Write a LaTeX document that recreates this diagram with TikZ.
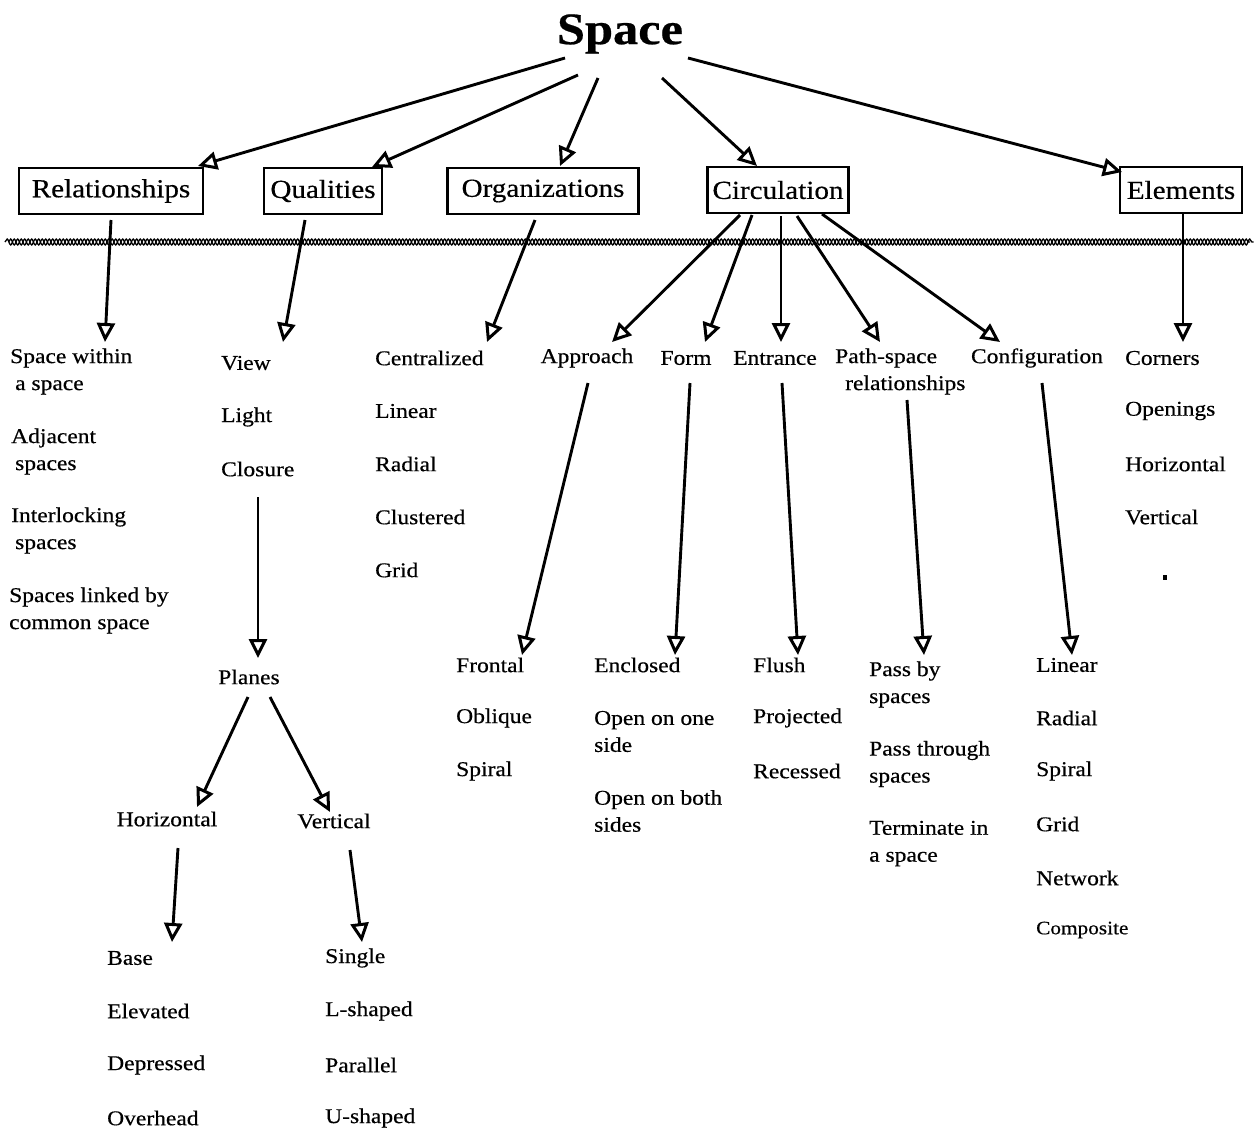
\documentclass[tikz,border=0pt]{standalone}
\usepackage{fontspec}
\setmainfont{Liberation Serif}[FakeStretch=1.12, FakeBold=0.5]
\usetikzlibrary{arrows.meta,decorations.pathmorphing}
\begin{document}
\begin{tikzpicture}[x=1pt,y=-1pt,
  arr/.style={line width=2.9pt, -{Triangle[open,length=19pt,width=18pt,line width=3pt]}},
  catbox/.style={draw, line width=2.4pt, minimum height=46pt, inner sep=0pt, font=\fontsize{26}{30}\selectfont},
  item/.style={anchor=west, inner sep=0pt, align=left, font=\fontsize{21}{27}\selectfont},
  citem/.style={anchor=center, inner sep=0pt, font=\fontsize{21}{27}\selectfont},
  wave/.style={line width=1.3pt, decorate, decoration={snake, segment length=7pt, amplitude=3pt}}]
\useasboundingbox (0,0) rectangle (1257,1133);

% title and category boxes
\node[font=\bfseries\fontsize{45}{50}\selectfont, inner sep=0pt] (space) at (620,34) {Space};
\node[catbox, minimum width=184pt] (rel) at (111,191) {Relationships};
\node[catbox, minimum width=118pt] (qual) at (323,191) {Qualities};
\node[catbox, minimum width=191pt] (org) at (543,191) {Organizations};
\node[catbox, minimum width=141pt] (circ) at (778,190) {Circulation};
\node[catbox, minimum width=122pt] (elem) at (1181,190) {Elements};

% divider band: two snakes half a period apart
\draw[wave] (5,242) -- (1250,242);
\draw[wave] (8.5,242) -- (1253.5,242);

% relationships
\node[item] (r1) at (10,371.5) {Space within\\\hspace*{5pt}a space};
\node[item] (r2) at (11,451.5) {Adjacent\\\hspace*{4pt}spaces};
\node[item] (r3) at (11,530.5) {Interlocking\\\hspace*{4pt}spaces};
\node[item] (r4) at (9,610.5) {Spaces linked by\\common space};

% qualities
\node[item] (q1) at (221,363) {View};
\node[item] (q2) at (221,417) {Light};
\node[item] (q3) at (221,469) {Closure};
\node[citem] (planes) at (249,677) {Planes};
\node[citem] (hor) at (167,819) {Horizontal};
\node[citem] (ver) at (334,821) {Vertical};
\node[item] (h1) at (107,958) {Base};
\node[item] (h2) at (107,1011) {Elevated};
\node[item] (h3) at (107,1065) {Depressed};
\node[item] (h4) at (107,1118) {Overhead};
\node[item] (v1) at (325,958) {Single};
\node[item] (v2) at (325,1011) {L-shaped};
\node[item] (v3) at (325,1065) {Parallel};
\node[item] (v4) at (325,1118) {U-shaped};

% organizations
\node[item] (o1) at (375,358) {Centralized};
\node[item] (o2) at (375,411) {Linear};
\node[item] (o3) at (375,464) {Radial};
\node[item] (o4) at (375,517) {Clustered};
\node[item] (o5) at (375,570) {Grid};

% circulation
\node[citem] (appr) at (587,358) {Approach};
\node[citem] (form) at (686,358) {Form};
\node[citem] (entr) at (775,358) {Entrance};
\node[item] (path) at (835,371.5) {Path-space\\\hspace*{10pt}relationships};
\node[citem] (conf) at (1037,358) {Configuration};

\node[item] (a1) at (456,665) {Frontal};
\node[item] (a2) at (456,718) {Oblique};
\node[item] (a3) at (456,771) {Spiral};

\node[item] (f1) at (594,665) {Enclosed};
\node[item] (f2) at (594,731.5) {Open on one\\side};
\node[item] (f3) at (594,811) {Open on both\\sides};

\node[item] (e1) at (753,665) {Flush};
\node[item] (e2) at (753,718) {Projected};
\node[item] (e3) at (753,771) {Recessed};

\node[item] (p1) at (869,684.5) {Pass by\\spaces};
\node[item] (p2) at (869,764) {Pass through\\spaces};
\node[item] (p3) at (869,843.5) {Terminate in\\a space};

\node[item] (c1) at (1036,665) {Linear};
\node[item] (c2) at (1036,718) {Radial};
\node[item] (c3) at (1036,771) {Spiral};
\node[item] (c4) at (1036,824) {Grid};
\node[item] (c5) at (1036,878) {Network};
\node[item, font=\fontsize{19}{24}\selectfont] (c6) at (1036,930) {Composite};

% elements
\node[item] (el1) at (1125,358) {Corners};
\node[item] (el2) at (1125,411) {Openings};
\node[item] (el3) at (1125,464) {Horizontal};
\node[item] (el4) at (1125,517) {Vertical};
\fill (1163,575) rectangle (1167,580);

% connectors from the title
\draw[arr] ([shift={(-55pt,-24pt)}]space.center) -- ([shift={(87pt,25pt)}]rel.center);
\draw[arr] ([shift={(-42pt,-41pt)}]space.center) -- ([shift={(49pt,24pt)}]qual.center);
\draw[arr] ([shift={(-22pt,-44pt)}]space.center) -- ([shift={(17pt,25pt)}]org.center);
\draw[arr] ([shift={(42pt,-44pt)}]space.center) -- ([shift={(-21pt,24pt)}]circ.center);
\draw[arr] ([shift={(68pt,-24pt)}]space.center) -- ([shift={(-59pt,18pt)}]elem.center);

% connectors below the boxes
\draw[arr] ([shift={(0pt,-29pt)}]rel.center) -- ([shift={(95pt,29.5pt)}]r1.west);
\draw[arr] ([shift={(-18pt,-29pt)}]qual.center) -- ([shift={(62pt,21pt)}]q1.west);
\draw[arr] ([shift={(37pt,-28pt)}]q3.west) -- ([shift={(9pt,19pt)}]planes.center);
\draw[arr] ([shift={(-1pt,-20pt)}]planes.center) -- ([shift={(30pt,12pt)}]hor.center);
\draw[arr] ([shift={(21pt,-20pt)}]planes.center) -- ([shift={(-4pt,9pt)}]ver.center);
\draw[arr] ([shift={(11pt,-29pt)}]hor.center) -- ([shift={(65pt,16pt)}]h1.west);
\draw[arr] ([shift={(16pt,-29pt)}]ver.center) -- ([shift={(37pt,16pt)}]v1.west);
\draw[arr] ([shift={(-8pt,-29pt)}]org.center) -- ([shift={(112pt,16pt)}]o1.west);

\draw[arr] ([shift={(-38pt,-25pt)}]circ.center) -- ([shift={(25pt,16pt)}]appr.center);
\draw[arr] ([shift={(-26pt,-25pt)}]circ.center) -- ([shift={(19pt,16pt)}]form.center);
\draw[arr] ([shift={(3pt,-26pt)}]circ.center) -- ([shift={(6pt,16pt)}]entr.center);
\draw[arr] ([shift={(19pt,-26pt)}]circ.center) -- ([shift={(45pt,29.5pt)}]path.west);
\draw[arr] ([shift={(44pt,-24pt)}]circ.center) -- ([shift={(-37pt,16pt)}]conf.center);
\draw[arr] ([shift={(2pt,-22pt)}]elem.center) -- ([shift={(58pt,16pt)}]el1.west);

\draw[arr] ([shift={(1pt,-25pt)}]appr.center) -- ([shift={(66pt,10pt)}]a1.west);
\draw[arr] ([shift={(4pt,-25pt)}]form.center) -- ([shift={(81pt,10pt)}]f1.west);
\draw[arr] ([shift={(7pt,-25pt)}]entr.center) -- ([shift={(45pt,10pt)}]e1.west);
\draw[arr] ([shift={(72pt,-28.5pt)}]path.west) -- ([shift={(55pt,29.5pt)}]p1.west);
\draw[arr] ([shift={(5pt,-25pt)}]conf.center) -- ([shift={(36pt,10pt)}]c1.west);
\end{tikzpicture}
\end{document}
